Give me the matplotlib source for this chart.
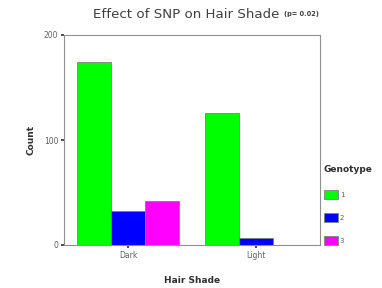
import numpy as np
import matplotlib.pyplot as plt
from matplotlib.patches import Patch

shades = ['Dark', 'Light']
genotypes = ['1', '2', '3']
counts = {
    '1': [174, 126],
    '2': [32, 7],
    '3': [42, 0],
}
colors = ['#00ff00', '#0000ff', '#ff00ff']

fig = plt.figure(figsize=(3.82, 2.88), dpi=100)
ax = fig.add_axes([64/382, 1-245/288, 256/382, 210/288])

x = np.arange(len(shades))
w = 0.266
for i, g in enumerate(genotypes):
    ax.bar(x + (i-1)*w, counts[g], width=w, color=colors[i],
           edgecolor='#808080', linewidth=0.6, label=g)

ax.set_xlim(-0.5, 1.5)
ax.set_ylim(0, 200)
ax.set_yticks([0, 100, 200])
ax.set_xticks(x)
ax.set_xticklabels(shades)
ax.tick_params(labelsize=5.5, labelcolor='#606060', length=2, width=1.2,
               color='#303030', pad=2)
for s in ax.spines.values():
    s.set_color('#909090')
    s.set_linewidth(0.8)

ax.set_ylabel('Count', fontsize=6.5, fontweight='bold', color='#303030', labelpad=6)
ax.set_xlabel('Hair Shade', fontsize=6.5, fontweight='bold', color='#303030', labelpad=12)

fig.text(93/382, 1-15/288, 'Effect of SNP on Hair Shade', fontsize=9.6,
         color='#404040', va='center', ha='left')
fig.text(284/382, 1-14/288, '(p= 0.02)', fontsize=4.8, fontweight='bold',
         color='#404040', va='center', ha='left')

handles = [Patch(facecolor=c, edgecolor='#808080', linewidth=0.6) for c in colors]
leg = fig.legend(handles, genotypes, title='Genotype', loc='upper left',
                 bbox_to_anchor=(321/382, 1-162/288), frameon=False,
                 fontsize=5, title_fontsize=6.5, labelcolor='#606060',
                 handlelength=2.0, handleheight=1.6, handletextpad=0.3,
                 labelspacing=2.0, borderaxespad=0)
leg.get_title().set_fontweight('bold')
leg.get_title().set_color('#303030')
leg._legend_box.align = 'left'
leg._legend_box.sep = 12

fig.savefig('out.png', dpi=100)
